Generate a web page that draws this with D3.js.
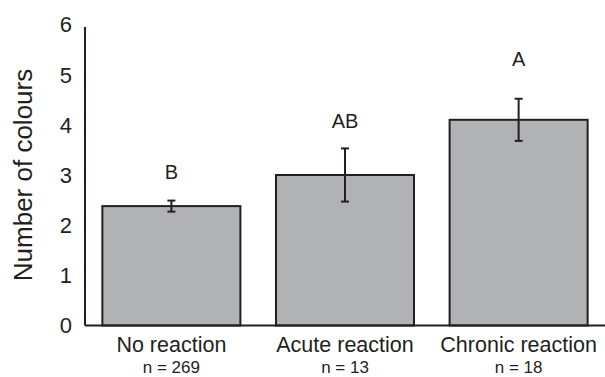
<!DOCTYPE html>
<html>
<head>
<meta charset="utf-8">
<script src="https://cdn.jsdelivr.net/npm/d3@7"></script>
<style>
  body { margin: 0; background: #fff; }
  text { font-family: "Liberation Sans", Arial, sans-serif; fill: #231f20; }
</style>
</head>
<body>
<div id="chart"></div>
<script>
var categories = ["No reaction", "Acute reaction", "Chronic reaction"];
var sampleSizes = ["n = 269", "n = 13", "n = 18"];
var means = [2.38, 3.0, 4.1];
var errors = [0.11, 0.53, 0.42];
var letters = ["B", "AB", "A"];
var letterLevels = [3.06, 4.08, 5.31];
var yTicks = [0, 1, 2, 3, 4, 5, 6];

var margin = {top: 24.5, right: 0, bottom: 51.5, left: 85},
    width = 605 - margin.left - margin.right,
    height = 377 - margin.top - margin.bottom,
    x = d3.scaleBand().domain(categories).range([0, width]).paddingInner(0.205).paddingOuter(0.1),
    y = d3.scaleLinear().domain([0, 6]).range([height, 0]);

var svg = d3.select("#chart").append("svg")
    .attr("width", 605)
    .attr("height", 377);

var g = svg.append("g")
    .attr("transform", "translate(" + margin.left + "," + margin.top + ")");

var ink = "#231f20";

// bars
g.selectAll(".bar")
  .data(means)
  .enter()
  .append("rect")
    .attr("x", function(d, i) { return x(categories[i]); })
    .attr("y", function(d) { return y(d); })
    .attr("width", x.bandwidth())
    .attr("height", function(d) { return y(0) - y(d); })
    .attr("fill", "#b1b2b4")
    .attr("stroke", ink)
    .attr("stroke-width", 2);

// error bars
var eb = g.selectAll(".err")
  .data(means)
  .enter()
  .append("g");
eb.append("line")
    .attr("x1", function(d, i) { return x(categories[i]) + x.bandwidth() / 2; })
    .attr("x2", function(d, i) { return x(categories[i]) + x.bandwidth() / 2; })
    .attr("y1", function(d, i) { return y(d + errors[i]); })
    .attr("y2", function(d, i) { return y(d - errors[i]); })
    .attr("stroke", ink).attr("stroke-width", 2);
[1, -1].forEach(function(s) {
  eb.append("line")
    .attr("x1", function(d, i) { return x(categories[i]) + x.bandwidth() / 2 - 4; })
    .attr("x2", function(d, i) { return x(categories[i]) + x.bandwidth() / 2 + 4; })
    .attr("y1", function(d, i) { return y(d + s * errors[i]); })
    .attr("y2", function(d, i) { return y(d + s * errors[i]); })
    .attr("stroke", ink).attr("stroke-width", 2);
});

// significance letters
g.selectAll(".letter")
  .data(letters)
  .enter()
  .append("text")
    .attr("x", function(d, i) { return x(categories[i]) + x.bandwidth() / 2; })
    .attr("y", function(d, i) { return y(letterLevels[i]); })
    .attr("dy", "0.36em")
    .attr("text-anchor", "middle")
    .attr("font-size", "20px")
    .text(function(d) { return d; });

// axes
g.append("line")
    .attr("x1", 0).attr("x2", width)
    .attr("y1", y(0)).attr("y2", y(0))
    .attr("stroke", ink).attr("stroke-width", 2);
g.append("line")
    .attr("x1", 0).attr("x2", 0)
    .attr("y1", y(0)).attr("y2", y(6) + 2.5)
    .attr("stroke", ink).attr("stroke-width", 2);

g.selectAll(".ytick")
  .data(yTicks)
  .enter()
  .append("text")
    .attr("x", -13)
    .attr("y", function(d) { return y(d); })
    .attr("dy", "0.36em")
    .attr("text-anchor", "end")
    .attr("font-size", "22px")
    .text(function(d) { return d; });

g.selectAll(".xlab")
  .data(categories)
  .enter()
  .append("text")
    .attr("x", function(d) { return x(d) + x.bandwidth() / 2; })
    .attr("y", height + 26.5)
    .attr("text-anchor", "middle")
    .attr("font-size", "21.5px")
    .text(function(d) { return d; });

g.selectAll(".nlab")
  .data(sampleSizes)
  .enter()
  .append("text")
    .attr("x", function(d, i) { return x(categories[i]) + x.bandwidth() / 2; })
    .attr("y", height + 47.5)
    .attr("text-anchor", "middle")
    .attr("font-size", "17px")
    .text(function(d) { return d; });

svg.append("text")
    .attr("transform", "rotate(-90)")
    .attr("x", -175)
    .attr("y", 32)
    .attr("text-anchor", "middle")
    .attr("font-size", "26px")
    .text("Number of colours");
</script>
</body>
</html>
